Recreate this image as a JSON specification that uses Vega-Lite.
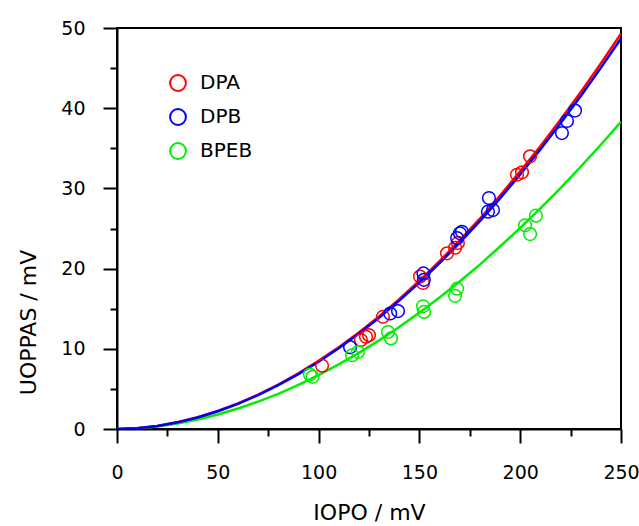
{
  "$schema": "https://vega.github.io/schema/vega-lite/v6.json",
  "width": 504,
  "height": 401,
  "autosize": {"type": "none"},
  "padding": {"left": 117, "top": 28, "right": 18, "bottom": 97},
  "background": "white",
  "config": {
    "font": "DejaVu Sans",
    "view": {"stroke": "black", "strokeWidth": 2},
    "axis": {
      "grid": false,
      "domainColor": "black",
      "domainWidth": 2,
      "tickColor": "black",
      "tickWidth": 2,
      "labelFontSize": 19,
      "labelColor": "black",
      "labelPadding": 5,
      "labelFlush": false,
      "titleFontSize": 22,
      "titleFontWeight": "normal",
      "titleColor": "black"
    }
  },
  "datasets": {
    "curves": [
      {"I": 0, "U": 0, "series": "BPEB"},
      {"I": 10, "U": 0.08, "series": "BPEB"},
      {"I": 20, "U": 0.32, "series": "BPEB"},
      {"I": 30, "U": 0.68, "series": "BPEB"},
      {"I": 40, "U": 1.18, "series": "BPEB"},
      {"I": 50, "U": 1.8, "series": "BPEB"},
      {"I": 60, "U": 2.55, "series": "BPEB"},
      {"I": 70, "U": 3.41, "series": "BPEB"},
      {"I": 80, "U": 4.39, "series": "BPEB"},
      {"I": 90, "U": 5.5, "series": "BPEB"},
      {"I": 100, "U": 6.72, "series": "BPEB"},
      {"I": 110, "U": 8.05, "series": "BPEB"},
      {"I": 120, "U": 9.49, "series": "BPEB"},
      {"I": 130, "U": 11.05, "series": "BPEB"},
      {"I": 140, "U": 12.72, "series": "BPEB"},
      {"I": 150, "U": 14.51, "series": "BPEB"},
      {"I": 160, "U": 16.4, "series": "BPEB"},
      {"I": 170, "U": 18.4, "series": "BPEB"},
      {"I": 180, "U": 20.5, "series": "BPEB"},
      {"I": 190, "U": 22.75, "series": "BPEB"},
      {"I": 200, "U": 25.07, "series": "BPEB"},
      {"I": 210, "U": 27.51, "series": "BPEB"},
      {"I": 220, "U": 30.04, "series": "BPEB"},
      {"I": 230, "U": 32.7, "series": "BPEB"},
      {"I": 240, "U": 35.44, "series": "BPEB"},
      {"I": 250, "U": 38.3, "series": "BPEB"},
      {"I": 0, "U": 0, "series": "DPA"},
      {"I": 10, "U": 0.1, "series": "DPA"},
      {"I": 20, "U": 0.38, "series": "DPA"},
      {"I": 30, "U": 0.84, "series": "DPA"},
      {"I": 40, "U": 1.46, "series": "DPA"},
      {"I": 50, "U": 2.25, "series": "DPA"},
      {"I": 60, "U": 3.18, "series": "DPA"},
      {"I": 70, "U": 4.28, "series": "DPA"},
      {"I": 80, "U": 5.53, "series": "DPA"},
      {"I": 90, "U": 6.93, "series": "DPA"},
      {"I": 100, "U": 8.49, "series": "DPA"},
      {"I": 110, "U": 10.19, "series": "DPA"},
      {"I": 120, "U": 12.04, "series": "DPA"},
      {"I": 130, "U": 14.04, "series": "DPA"},
      {"I": 140, "U": 16.19, "series": "DPA"},
      {"I": 150, "U": 18.48, "series": "DPA"},
      {"I": 160, "U": 20.92, "series": "DPA"},
      {"I": 170, "U": 23.51, "series": "DPA"},
      {"I": 180, "U": 26.22, "series": "DPA"},
      {"I": 190, "U": 29.1, "series": "DPA"},
      {"I": 200, "U": 32.12, "series": "DPA"},
      {"I": 210, "U": 35.26, "series": "DPA"},
      {"I": 220, "U": 38.57, "series": "DPA"},
      {"I": 230, "U": 42.0, "series": "DPA"},
      {"I": 240, "U": 45.57, "series": "DPA"},
      {"I": 250, "U": 49.3, "series": "DPA"},
      {"I": 0, "U": 0, "series": "DPB"},
      {"I": 10, "U": 0.1, "series": "DPB"},
      {"I": 20, "U": 0.38, "series": "DPB"},
      {"I": 30, "U": 0.83, "series": "DPB"},
      {"I": 40, "U": 1.44, "series": "DPB"},
      {"I": 50, "U": 2.22, "series": "DPB"},
      {"I": 60, "U": 3.14, "series": "DPB"},
      {"I": 70, "U": 4.23, "series": "DPB"},
      {"I": 80, "U": 5.46, "series": "DPB"},
      {"I": 90, "U": 6.85, "series": "DPB"},
      {"I": 100, "U": 8.39, "series": "DPB"},
      {"I": 110, "U": 10.07, "series": "DPB"},
      {"I": 120, "U": 11.9, "series": "DPB"},
      {"I": 130, "U": 13.87, "series": "DPB"},
      {"I": 140, "U": 16.0, "series": "DPB"},
      {"I": 150, "U": 18.26, "series": "DPB"},
      {"I": 160, "U": 20.67, "series": "DPB"},
      {"I": 170, "U": 23.23, "series": "DPB"},
      {"I": 180, "U": 25.91, "series": "DPB"},
      {"I": 190, "U": 28.75, "series": "DPB"},
      {"I": 200, "U": 31.74, "series": "DPB"},
      {"I": 210, "U": 34.84, "series": "DPB"},
      {"I": 220, "U": 38.11, "series": "DPB"},
      {"I": 230, "U": 41.5, "series": "DPB"},
      {"I": 240, "U": 45.03, "series": "DPB"},
      {"I": 250, "U": 48.7, "series": "DPB"}
    ],
    "points": [
      {"I": 101.7, "U": 7.9, "series": "DPA"},
      {"I": 121.0, "U": 11.1, "series": "DPA"},
      {"I": 123.5, "U": 11.5, "series": "DPA"},
      {"I": 125.0, "U": 11.7, "series": "DPA"},
      {"I": 131.9, "U": 14.0, "series": "DPA"},
      {"I": 150.3, "U": 19.0, "series": "DPA"},
      {"I": 151.8, "U": 18.2, "series": "DPA"},
      {"I": 163.7, "U": 21.9, "series": "DPA"},
      {"I": 167.7, "U": 22.6, "series": "DPA"},
      {"I": 169.1, "U": 23.2, "series": "DPA"},
      {"I": 198.4, "U": 31.7, "series": "DPA"},
      {"I": 200.9, "U": 32.0, "series": "DPA"},
      {"I": 204.9, "U": 34.0, "series": "DPA"},
      {"I": 115.6, "U": 10.2, "series": "DPB"},
      {"I": 135.5, "U": 14.4, "series": "DPB"},
      {"I": 139.4, "U": 14.7, "series": "DPB"},
      {"I": 152.0, "U": 19.4, "series": "DPB"},
      {"I": 152.2, "U": 18.6, "series": "DPB"},
      {"I": 168.7, "U": 23.8, "series": "DPB"},
      {"I": 170.1, "U": 24.4, "series": "DPB"},
      {"I": 171.1, "U": 24.6, "series": "DPB"},
      {"I": 184.0, "U": 27.1, "series": "DPB"},
      {"I": 184.5, "U": 28.8, "series": "DPB"},
      {"I": 186.5, "U": 27.3, "series": "DPB"},
      {"I": 220.7, "U": 36.9, "series": "DPB"},
      {"I": 223.2, "U": 38.4, "series": "DPB"},
      {"I": 227.2, "U": 39.7, "series": "DPB"},
      {"I": 95.7, "U": 6.8, "series": "BPEB"},
      {"I": 97.0, "U": 6.5, "series": "BPEB"},
      {"I": 116.6, "U": 9.2, "series": "BPEB"},
      {"I": 119.5, "U": 9.6, "series": "BPEB"},
      {"I": 134.4, "U": 12.1, "series": "BPEB"},
      {"I": 135.9, "U": 11.3, "series": "BPEB"},
      {"I": 151.8, "U": 15.3, "series": "BPEB"},
      {"I": 152.3, "U": 14.6, "series": "BPEB"},
      {"I": 167.7, "U": 16.6, "series": "BPEB"},
      {"I": 168.7, "U": 17.5, "series": "BPEB"},
      {"I": 202.4, "U": 25.4, "series": "BPEB"},
      {"I": 204.9, "U": 24.3, "series": "BPEB"},
      {"I": 207.8, "U": 26.6, "series": "BPEB"}
    ]
  },
  "encoding": {
    "x": {
      "field": "I",
      "type": "quantitative",
      "scale": {"domain": [0, 250], "nice": false, "zero": false},
      "axis": {
        "title": "IOPO  /  mV",
        "values": [0, 25, 50, 75, 100, 125, 150, 175, 200, 225, 250],
        "labelExpr": "datum.value % 50 === 0 ? datum.label : ''",
        "tickSize": {"condition": {"test": "datum.value % 50 === 0", "value": 14}, "value": 7},
        "labelPadding": 20,
        "titleBaseline": "middle",
        "titleY": 83
      }
    },
    "y": {
      "field": "U",
      "type": "quantitative",
      "scale": {"domain": [0, 50], "nice": false, "zero": false},
      "axis": {
        "title": "UOPPAS  /  mV",
        "values": [0, 5, 10, 15, 20, 25, 30, 35, 40, 45, 50],
        "labelExpr": "datum.value % 10 === 0 ? datum.label : ''",
        "tickSize": {"condition": {"test": "datum.value % 10 === 0", "value": 14}, "value": 7},
        "labelPadding": 18,
        "titleBaseline": "middle",
        "titleX": -89,
        "titleY": 294
      }
    }
  },
  "layer": [
    {
      "data": {"name": "curves"},
      "mark": {"type": "line", "strokeWidth": 2.5, "clip": true},
      "encoding": {
        "stroke": {
          "field": "series",
          "type": "nominal",
          "scale": {"domain": ["BPEB", "DPA", "DPB"], "range": ["#00ee00", "#ff0000", "#0000ff"]},
          "legend": null
        }
      }
    },
    {
      "data": {"name": "points"},
      "mark": {"type": "point", "shape": "circle", "filled": false, "size": 160, "strokeWidth": 1.5, "opacity": 1},
      "encoding": {
        "color": {
          "field": "series",
          "type": "nominal",
          "scale": {"domain": ["DPA", "DPB", "BPEB"], "range": ["#ff0000", "#0000ff", "#00ee00"]},
          "legend": {
            "orient": "none",
            "legendX": 51,
            "legendY": 45,
            "title": null,
            "padding": 0,
            "symbolType": "circle",
            "symbolSize": 250,
            "symbolStrokeWidth": 2,
            "labelFontSize": 20,
            "labelColor": "black",
            "labelOffset": 12,
            "rowPadding": 10
          }
        }
      }
    }
  ]
}
